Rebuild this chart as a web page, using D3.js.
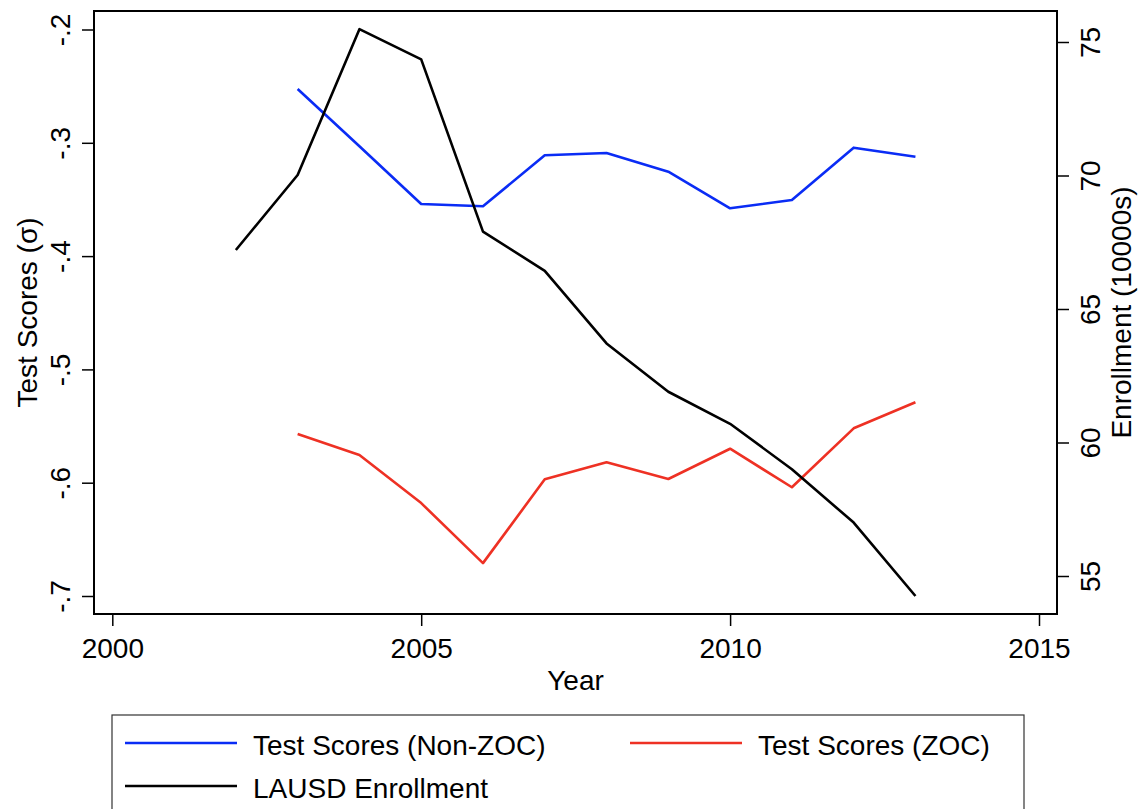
<!DOCTYPE html>
<html>
<head>
<meta charset="utf-8">
<script src="https://cdn.jsdelivr.net/npm/d3@7"></script>
<style>
  html, body { margin: 0; padding: 0; background: #fff; }
  svg { display: block; font-family: "Liberation Sans", Arial, Helvetica, sans-serif; }
</style>
</head>
<body>
<svg id="chart" width="1142" height="809"></svg>
<script>
// Years covered by each series
const years = [2002, 2003, 2004, 2005, 2006, 2007, 2008, 2009, 2010, 2011, 2012, 2013];
const scoreYears = [2003, 2004, 2005, 2006, 2007, 2008, 2009, 2010, 2011, 2012, 2013];

// Test scores in standard deviations (left axis)
const nonZocScores = [-0.2525, -0.303, -0.354, -0.356, -0.311, -0.309, -0.3255, -0.3578, -0.3505, -0.3043, -0.3123];
const zocScores = [-0.557, -0.5755, -0.618, -0.671, -0.597, -0.582, -0.5967, -0.570, -0.604, -0.552, -0.529];

// District enrollment in 10000s (right axis)
const enrollment = [67.21, 70.02, 75.48, 74.35, 67.90, 66.43, 63.71, 61.90, 60.70, 59.00, 57.00, 54.25];

// Tick values
const xTicks = [2000, 2005, 2010, 2015];
const leftTicks = [-0.2, -0.3, -0.4, -0.5, -0.6, -0.7];
const rightTicks = [55, 60, 65, 70, 75];

// Legend entries
const legendItems = [
  { label: "Test Scores (Non-ZOC)", color: "#0a2cf5" },
  { label: "Test Scores (ZOC)", color: "#ee3124" },
  { label: "LAUSD Enrollment", color: "#000000" }
];

const svg = d3.select("#chart");
const frame = { left: 94, right: 1057, top: 11, bottom: 614 };

const x = d3.scaleLinear().domain([2000, 2015]).range([112.3, 1039]);
const yLeft = d3.scaleLinear().domain([-0.7, -0.2]).range([596, 29.5]);
const yRight = d3.scaleLinear().domain([55, 75]).range([576, 42]);

const fontSize = 28;

// Plot region outline
svg.append("rect")
  .attr("x", frame.left).attr("y", frame.top)
  .attr("width", frame.right - frame.left).attr("height", frame.bottom - frame.top)
  .attr("fill", "none").attr("stroke", "#000").attr("stroke-width", 2);

// Bottom axis
const gx = svg.append("g")
  .attr("transform", `translate(0,${frame.bottom})`)
  .call(d3.axisBottom(x).tickValues(xTicks).tickFormat(d3.format("d")).tickSize(12).tickPadding(8));
gx.select(".domain").remove();
gx.selectAll("line").attr("stroke-width", 1.5);
gx.selectAll("text").attr("font-size", fontSize).attr("dy", null).attr("y", 44).attr("fill", "#000");

// Left axis with rotated labels, written like "-.2"
const fmtLeft = d => d3.format(".1f")(d).replace("\u2212", "-").replace("0.", ".");
const gl = svg.append("g")
  .attr("transform", `translate(${frame.left},0)`)
  .call(d3.axisLeft(yLeft).tickValues(leftTicks).tickFormat(fmtLeft).tickSize(12));
gl.select(".domain").remove();
gl.selectAll("line").attr("stroke-width", 1.5);
gl.selectAll("text")
  .attr("x", null).attr("dy", null).attr("font-size", fontSize).attr("fill", "#000")
  .attr("text-anchor", "middle")
  .attr("transform", "translate(-24,0) rotate(-90)");

// Right axis with rotated labels
const gr = svg.append("g")
  .attr("transform", `translate(${frame.right},0)`)
  .call(d3.axisRight(yRight).tickValues(rightTicks).tickFormat(d3.format("d")).tickSize(12));
gr.select(".domain").remove();
gr.selectAll("line").attr("stroke-width", 1.5);
gr.selectAll("text")
  .attr("x", null).attr("dy", null).attr("font-size", fontSize).attr("fill", "#000")
  .attr("text-anchor", "middle")
  .attr("transform", "translate(43,0) rotate(-90)");

// Axis titles
const midY = (frame.top + frame.bottom) / 2;
svg.append("text")
  .attr("transform", `translate(37,${midY}) rotate(-90)`)
  .attr("text-anchor", "middle").attr("font-size", fontSize)
  .text("Test Scores (σ)");
svg.append("text")
  .attr("transform", `translate(1131,${midY}) rotate(-90)`)
  .attr("text-anchor", "middle").attr("font-size", fontSize)
  .text("Enrollment (10000s)");
svg.append("text")
  .attr("x", (frame.left + frame.right) / 2).attr("y", 690)
  .attr("text-anchor", "middle").attr("font-size", fontSize)
  .text("Year");

// Series lines
const lineLeft = d3.line().x(d => x(d[0])).y(d => yLeft(d[1]));
const lineRight = d3.line().x(d => x(d[0])).y(d => yRight(d[1]));

svg.append("path")
  .datum(d3.zip(scoreYears, nonZocScores))
  .attr("d", lineLeft)
  .attr("fill", "none").attr("stroke", legendItems[0].color).attr("stroke-width", 2.6)
  .attr("stroke-linejoin", "round");

svg.append("path")
  .datum(d3.zip(scoreYears, zocScores))
  .attr("d", lineLeft)
  .attr("fill", "none").attr("stroke", legendItems[1].color).attr("stroke-width", 2.6)
  .attr("stroke-linejoin", "round");

svg.append("path")
  .datum(d3.zip(years, enrollment))
  .attr("d", lineRight)
  .attr("fill", "none").attr("stroke", legendItems[2].color).attr("stroke-width", 2.6)
  .attr("stroke-linejoin", "round");

// Legend
const legend = svg.append("g");
legend.append("rect")
  .attr("x", 112).attr("y", 715).attr("width", 912).attr("height", 120)
  .attr("fill", "#fff").attr("stroke", "#333").attr("stroke-width", 1.2);

const legendPos = [
  { lx: 125, ly: 743 },
  { lx: 630, ly: 743 },
  { lx: 125, ly: 786 }
];
legendItems.forEach((item, i) => {
  const p = legendPos[i];
  legend.append("line")
    .attr("x1", p.lx).attr("x2", p.lx + 112)
    .attr("y1", p.ly).attr("y2", p.ly)
    .attr("stroke", item.color).attr("stroke-width", 2.6);
  legend.append("text")
    .attr("x", p.lx + 128).attr("y", p.ly + 12)
    .attr("font-size", fontSize)
    .text(item.label);
});
</script>
</body>
</html>
